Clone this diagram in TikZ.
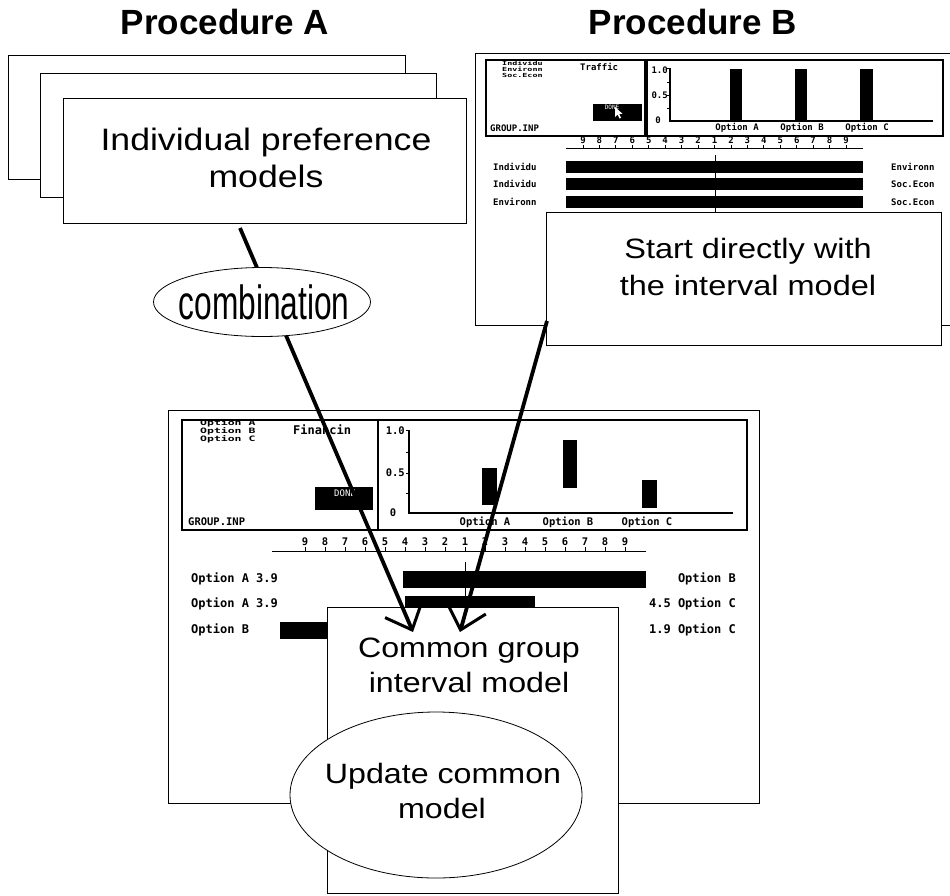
\documentclass[tikz,border=0pt]{standalone}
\usepackage{fontspec}
\setmainfont{Liberation Sans}
\newfontfamily\scrfont{DejaVu Sans Mono}
\usetikzlibrary{arrows.meta,shapes.geometric}
\begin{document}
\begin{tikzpicture}[x=1pt,y=-1pt,
  frame/.style={draw,line width=0.8pt,fill=white,inner sep=0pt,anchor=north west},
  panel/.style={draw,line width=2.2pt},
  bigtxt/.style={font=\fontsize{28}{34}\selectfont,anchor=base,inner sep=0pt},
  ttl/.style={font=\bfseries\fontsize{35}{35}\selectfont,anchor=base,inner sep=0pt},
  scrL/.style={font=\scrfont\bfseries\fontsize{12}{12}\selectfont,inner sep=0pt},
  scrM/.style={font=\scrfont\bfseries\fontsize{10.5}{10.5}\selectfont,inner sep=0pt},
  scrS/.style={font=\scrfont\bfseries\fontsize{9}{9}\selectfont,inner sep=0pt},
  scrT/.style={font=\scrfont\bfseries\fontsize{5.6}{5.6}\selectfont,inner sep=0pt},
  scrU/.style={font=\scrfont\bfseries\fontsize{7.4}{7.4}\selectfont,inner sep=0pt},
  conn/.style={line width=3.8pt,-{Straight Barb[length=22pt,width=40pt,line width=3pt]}}]
\useasboundingbox (0,0) rectangle (950,895);
\fill[white] (0,0) rectangle (950,895);

% titles
\node[ttl] (pa) at (225,34) {Procedure A};
\node[ttl] (pb) at (693,34) {Procedure B};

% Procedure A: stacked boxes
\node[frame,minimum width=397pt,minimum height=124pt] (boxa1) at (8,55) {};
\node[frame,minimum width=396pt,minimum height=124pt] (boxa2) at (40,73) {};
\node[frame,minimum width=403pt,minimum height=125pt] (boxa) at (63,98) {};
\node[bigtxt] (ipm1) at (266,150) {\scalebox{1.15}[1]{\fontsize{31}{31}\selectfont Individual preference}};
\node[bigtxt] (ipm2) at (266,187) {\scalebox{1.15}[1]{\fontsize{31}{31}\selectfont models}};

% Procedure B screenshot
\draw[line width=0.8pt] (952,53) -- (475,53) -- (475,325) -- (952,325);
\draw[panel] (486,60) rectangle (645,136);
\draw[panel] (647,60) rectangle (943,136);
\node[scrT,anchor=west] (tl1) at (502,63) {\scalebox{1.5}[1]{Individu}};
\node[scrT,anchor=west] (tl2) at (502,69.2) {\scalebox{1.5}[1]{Environn}};
\node[scrT,anchor=west] (tl3) at (502,75.4) {\scalebox{1.5}[1]{Soc.Econ}};
\node[scrS,anchor=west] (traf) at (580,67) {Traffic};
\fill (593,104) rectangle (642,121);
\node[font=\scrfont\fontsize{6}{6}\selectfont,text=white,inner sep=0pt] (bdone) at (612,107.5) {DONE};
\fill[white] (615,107) -- (615,117) -- (617.5,114.5) -- (619.5,118.5) -- (621,117.8) -- (619.2,113.8) -- (622.5,113.8) -- cycle;
\node[scrS,anchor=west] (gb) at (490,128) {GROUP.INP};
% chart B
\draw[line width=1.2pt] (670,68) -- (670,121) -- (933,121);
\foreach \t in {68,82,95,108} {\draw[line width=1pt] (667,\t) -- (670,\t);}
\node[scrS,anchor=east] (yb1) at (668,70) {1.0};
\node[scrS,anchor=east] (yb2) at (668,95) {0.5};
\node[scrS] (yb3) at (658,120) {0};
\fill (730,69) rectangle (742,121);
\fill (795,69) rectangle (807,121);
\fill (860,69) rectangle (873,121);
\node[scrS] (obA) at (737,128) {Option A};
\node[scrS] (obB) at (802,128) {Option B};
\node[scrS] (obC) at (867,128) {Option C};
% scale B
\foreach \n [count=\i from 0] in {9,8,7,6,5,4,3,2,1,2,3,4,5,6,7,8,9} {
  \node[scrS] (m\i) at ({583+16.44*\i},140.5) {\n};
  \draw[line width=0.8pt] ({583+16.44*\i},145) -- ({583+16.44*\i},148);
}
\draw[line width=1pt] (566,148) -- (863,148);
\draw[line width=1pt] (715,155) -- (715,212);
\fill (566,161) rectangle (863,173);
\fill (566,178) rectangle (863,190);
\fill (566,196) rectangle (863,208);
\node[scrS,anchor=west] (rb1) at (493,167) {Individu};
\node[scrS,anchor=west] (rb2) at (493,184) {Individu};
\node[scrS,anchor=west] (rb3) at (493,202) {Environn};
\node[scrS,anchor=west] (rr1) at (891,167) {Environn};
\node[scrS,anchor=west] (rr2) at (891,184) {Soc.Econ};
\node[scrS,anchor=west] (rr3) at (891,202) {Soc.Econ};

% front box B
\node[frame,minimum width=395pt,minimum height=133pt] (startb) at (546,212) {};
\node[bigtxt] (sb1) at (748,258) {\scalebox{1.16}[1]{Start directly with}};
\node[bigtxt] (sb2) at (748,295) {\scalebox{1.16}[1]{the interval model}};

% bottom screenshot
\draw[line width=0.8pt,fill=white] (168,410) rectangle (759,803);
\draw[panel] (182,420) rectangle (378,530);
\draw[panel] (378,420) rectangle (747,530);
\node[scrU,anchor=west] (lo1) at (200,423.5) {\scalebox{1.55}[1]{Option A}};
\node[scrU,anchor=west] (lo2) at (200,431.5) {\scalebox{1.55}[1]{Option B}};
\node[scrU,anchor=west] (lo3) at (200,439.5) {\scalebox{1.55}[1]{Option C}};
\node[scrL,anchor=west] (fin) at (293,430) {Financin};
\fill (315,487) rectangle (373,510);
\node[font=\scrfont\fontsize{9}{9}\selectfont,text=white,inner sep=0pt] (done) at (345,493) {DONE};
\node[scrM,anchor=west] (gi) at (188,522) {GROUP.INP};
% chart bottom
\draw[line width=1.4pt] (409,430) -- (409,513) -- (733,513);
\foreach \t in {430,452,473,493} {\draw[line width=1pt] (406,\t) -- (409,\t);}
\node[scrM,anchor=east] (y1) at (405,431) {1.0};
\node[scrM,anchor=east] (y2) at (405,473) {0.5};
\node[scrM] (y3) at (393,513) {0};
\fill (482,468) rectangle (497,505);
\fill (563,440) rectangle (577,488);
\fill (642,480) rectangle (657,508);
\node[scrM] (oA) at (485,522) {Option A};
\node[scrM] (oB) at (568,522) {Option B};
\node[scrM] (oC) at (647,522) {Option C};
% scale bottom
\foreach \n [count=\i from 0] in {9,8,7,6,5,4,3,2,1,2,3,4,5,6,7,8,9} {
  \node[scrM] (n\i) at ({305+20*\i},541.5) {\n};
  \draw[line width=0.8pt] ({305+20*\i},547) -- ({305+20*\i},551);
}
\draw[line width=1pt] (272,551) -- (646,551);
\draw[line width=1pt] (465,562) -- (465,607);
\fill (403,571) rectangle (646,588);
\fill (405,596) rectangle (535,613);
\fill (280,622) rectangle (400,639);
\node[scrL,anchor=west] (r1) at (191,579) {Option A 3.9};
\node[scrL,anchor=west] (r2) at (191,604) {Option A 3.9};
\node[scrL,anchor=west] (r3) at (191,630) {Option B};
\node[scrL,anchor=east] (q1) at (736,579) {Option B};
\node[scrL,anchor=east] (q2) at (736,604) {4.5 Option C};
\node[scrL,anchor=east] (q3) at (736,630) {1.9 Option C};

% common box
\node[frame,minimum width=291pt,minimum height=286pt] (common) at (327,607) {};
\node[bigtxt] (cg1) at (469,657) {\scalebox{1.15}[1]{Common group}};
\node[bigtxt] (cg2) at (469,692) {\scalebox{1.15}[1]{interval model}};

% update ellipse
\node[ellipse,draw,line width=0.8pt,fill=white,minimum width=292pt,minimum height=166pt,inner sep=0pt] (update) at (436,795) {};
\node[bigtxt] (uc1) at (443,783) {\scalebox{1.15}[1]{Update common}};
\node[bigtxt] (uc2) at (442,818) {\scalebox{1.15}[1]{model}};

% connectors
\coordinate (a1) at (240,228);
\coordinate (a2) at (413,632);
\coordinate (b1) at (547,321);
\coordinate (b2) at (460,632);
\draw[conn] (a1) -- (a2);
\draw[conn] (b1) -- (b2);

% combination ellipse
\node[ellipse,draw,line width=0.8pt,fill=white,minimum width=217pt,minimum height=69pt,inner sep=0pt] (comb) at (262,302) {};
\node[inner sep=0pt,anchor=base] (combt) at (264,319) {\scalebox{0.66}[1]{\fontsize{48}{48}\selectfont combination}};
\end{tikzpicture}
\end{document}
